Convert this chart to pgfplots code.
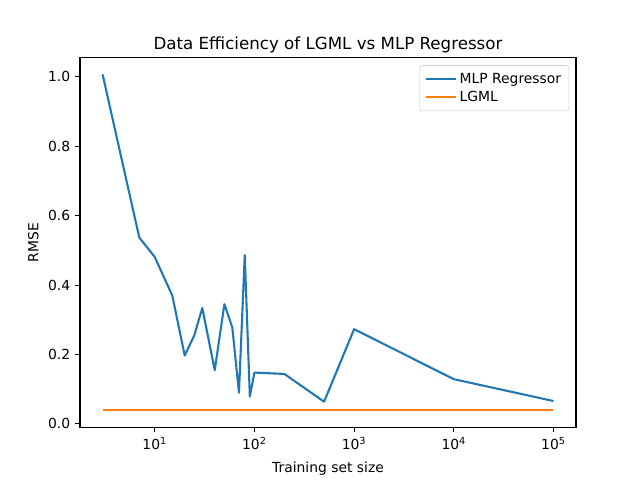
\documentclass[border=0pt]{standalone}
\usepackage{pgfplots}
\pgfplotsset{compat=1.18}
\usepackage{fontspec}
\setmainfont{DejaVu Sans}
\definecolor{C0}{HTML}{1F77B4}
\definecolor{C1}{HTML}{FF7F0E}
\begin{document}
\begin{tikzpicture}[x=1pt,y=1pt]
\path[use as bounding box] (0,0) rectangle (460.8,345.6);
\begin{axis}[
  at={(57.6pt,38.016pt)}, anchor=south west,
  scale only axis, width=357.12pt, height=266.112pt,
  xmode=log, log basis x=10,
  xmin=1.78, xmax=168300,
  ymin=-0.0094, ymax=1.0554,
  xtick={10,100,1000,10000,100000},
  xticklabels={10\textsuperscript{1},10\textsuperscript{2},10\textsuperscript{3},10\textsuperscript{4},10\textsuperscript{5}},
  ytick={0,0.2,0.4,0.6,0.8,1.0},
  yticklabel style={/pgf/number format/.cd,fixed,fixed zerofill,precision=1,assume math mode=true},
  tick align=outside, xtick pos=bottom, ytick pos=left,
  major tick length=3.5pt, minor tick length=2pt,
  every tick/.style={black, line width=0.8pt},
  minor tick style={line width=0.6pt},
  axis line style={line width=0.8pt},
  tick label style={font=\fontsize{10}{12}\selectfont},
  label style={font=\fontsize{10}{12}\selectfont},
  xlabel={Training set size}, ylabel={RMSE},
  xlabel style={at={(0.5,0)}, anchor=base, yshift=-32.3pt},
  every axis title shift=0pt,
  title={Data Efficiency of LGML vs MLP Regressor},
  title style={font=\fontsize{12}{14}\selectfont, at={(0.5,1)}, anchor=base, yshift=5.5pt},
  legend style={at={(1,1)}, anchor=north east, xshift=-5pt, yshift=-5.5pt, draw=black!20, rounded corners=2pt,
    font=\fontsize{10}{12}\selectfont, row sep=0pt, inner sep=3.5pt},
  legend cell align=left,
  legend image code/.code={\draw[#1] (0pt,0pt) -- (21.6pt,0pt);},
]
\addplot[C0, line width=1.5pt, line join=round] coordinates {
(3,1.007) (7,0.537) (10,0.481) (15,0.370) (20,0.197) (25,0.256) (30,0.334)
(40,0.155) (50,0.345) (60,0.278) (70,0.090) (80,0.486) (90,0.079) (100,0.148)
(200,0.144) (500,0.064) (1000,0.273) (10000,0.129) (100000,0.066)
};
\addlegendentry{MLP Regressor}
\addplot[C1, line width=1.5pt] coordinates {
(3,0.039) (7,0.039) (10,0.039) (100,0.039) (1000,0.039) (10000,0.039) (100000,0.039)
};
\addlegendentry{LGML}
\end{axis}
\end{tikzpicture}
\end{document}
